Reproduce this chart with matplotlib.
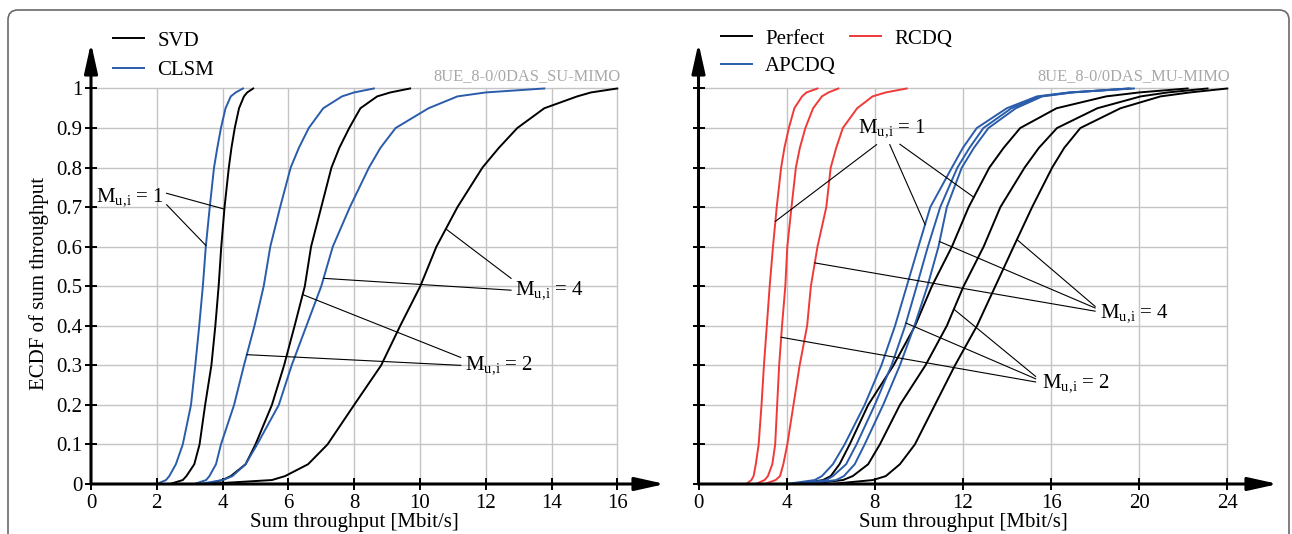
import numpy as np
import matplotlib
matplotlib.use("Agg")
import matplotlib.pyplot as plt
from matplotlib.patches import FancyBboxPatch
from matplotlib.transforms import IdentityTransform

plt.rcParams['font.family'] = ['Liberation Serif', 'DejaVu Serif']
plt.rcParams['mathtext.fontset'] = 'custom'
plt.rcParams['mathtext.rm'] = 'Liberation Serif'
plt.rcParams['mathtext.it'] = 'Liberation Serif:italic'

probs = [0, 0.01, 0.02, 0.05, 0.1, 0.2, 0.3, 0.4, 0.5, 0.6, 0.7, 0.8, 0.85, 0.9,
         0.95, 0.98, 0.99, 1.0]

# left panel: SU-MIMO
svd_m1 = [2.4, 2.79, 2.9, 3.14, 3.3, 3.47, 3.66, 3.78, 3.88, 3.96, 4.06, 4.19, 4.27, 4.37,
          4.5, 4.65, 4.75, 4.93]
clsm_m1 = [2.0, 2.28, 2.38, 2.58, 2.79, 3.04, 3.17, 3.29, 3.4, 3.49, 3.61, 3.74, 3.84, 3.95,
           4.09, 4.25, 4.4, 4.62]
svd_m2 = [3.5, 4.0, 4.25, 4.7, 5.0, 5.5, 5.87, 6.19, 6.5, 6.69, 7.0, 7.31, 7.55, 7.85,
          8.19, 8.7, 9.1, 9.7]
clsm_m2 = [3.14, 3.5, 3.6, 3.8, 3.95, 4.35, 4.65, 4.97, 5.25, 5.45, 5.75, 6.07, 6.32, 6.62,
           7.06, 7.63, 8.0, 8.6]
svd_m4 = [3.5, 5.5, 5.9, 6.6, 7.19, 8.0, 8.82, 9.4, 10.01, 10.5, 11.14, 11.9, 12.4, 12.96,
          13.78, 14.78, 15.2, 16.0]
clsm_m4 = [3.3, 4.0, 4.3, 4.7, 5.05, 5.71, 6.1, 6.55, 7.0, 7.35, 7.87, 8.45, 8.8, 9.26,
           10.26, 11.14, 12.0, 13.78]

# right panel: MU-MIMO
perf_m1 = [4.5, 5.65, 6.0, 6.4, 6.86, 7.7, 8.85, 9.83, 10.59, 11.5, 12.26, 13.2, 13.85, 14.6,
           16.25, 18.5, 20.0, 22.2]
perf_m2 = [5.0, 6.56, 7.0, 7.7, 8.23, 9.14, 10.3, 11.27, 12.03, 12.94, 13.7, 14.8, 15.45, 16.27,
           18.1, 20.07, 21.3, 23.1]
perf_m4 = [6.0, 7.92, 8.5, 9.14, 9.82, 10.73, 11.64, 12.64, 13.47, 14.3, 15.14, 16.05, 16.6,
           17.33, 19.15, 20.97, 22.3, 24.0]
apc_m1 = [4.0, 5.27, 5.6, 6.1, 6.63, 7.54, 8.3, 8.92, 9.45, 9.98, 10.52, 11.5, 12.0, 12.63,
          13.99, 15.36, 16.8, 19.76]
apc_m2 = [4.5, 5.8, 6.1, 6.7, 7.17, 8.0, 8.76, 9.38, 9.9, 10.41, 10.97, 11.75, 12.3, 12.93,
          14.2, 15.5, 16.9, 19.6]
apc_m4 = [4.8, 6.25, 6.6, 7.09, 7.54, 8.38, 9.14, 9.8, 10.39, 10.89, 11.27, 11.95, 12.5, 13.16,
          14.4, 15.6, 17.0, 19.5]
rcdq_m1 = [2.17, 2.4, 2.5, 2.6, 2.73, 2.86, 2.97, 3.1, 3.23, 3.38, 3.55, 3.75, 3.9, 4.1,
           4.35, 4.7, 4.9, 5.4]
rcdq_m2 = [2.6, 3.0, 3.15, 3.35, 3.48, 3.57, 3.66, 3.79, 3.94, 4.03, 4.22, 4.42, 4.6, 4.85,
           5.2, 5.6, 5.9, 6.35]
rcdq_m4 = [3.0, 3.5, 3.7, 3.85, 4.03, 4.31, 4.59, 4.93, 5.1, 5.4, 5.8, 6.0, 6.25, 6.55,
           7.2, 7.9, 8.5, 9.45]

left_xticks = list(range(0, 17, 2))
right_xticks = list(range(0, 25, 4))
yticks = [round(0.1 * i, 1) for i in range(11)]
ytick_labels = ['0', '0.1', '0.2', '0.3', '0.4', '0.5', '0.6', '0.7', '0.8', '0.9', '1']

BLACK, BLUE, RED = '#000000', '#2a5caa', '#f03a3a'
GRID = '#c4c4c4'
FS = 15

# callouts: label, text anchor, [(line start x, y, curve, level)]
left_callouts = [
    ('1', (0.15, 0.725), [(2.3, 0.735, svd_m1, 0.695), (2.3, 0.706, clsm_m1, 0.603)]),
    ('4', (12.9, 0.49), [(12.77, 0.52, svd_m4, 0.645), (12.77, 0.49, clsm_m4, 0.52)]),
    ('2', (11.37, 0.30), [(11.24, 0.32, svd_m2, 0.479), (11.24, 0.30, clsm_m2, 0.327)]),
]
right_callouts = [
    ('1', (7.23, 0.90), [(8.08, 0.858, rcdq_m1, 0.664), (8.68, 0.858, apc_m1, 0.656),
                         (9.14, 0.859, perf_m1, 0.725)]),
    ('4', (18.2, 0.432), [(18.0, 0.449, perf_m4, 0.618), (18.0, 0.445, apc_m4, 0.613),
                          (18.0, 0.437, rcdq_m4, 0.559)]),
    ('2', (15.58, 0.256), [(15.3, 0.272, perf_m2, 0.442), (15.3, 0.266, apc_m2, 0.407),
                           (15.3, 0.258, rcdq_m2, 0.371)]),
]

fig = plt.figure(figsize=(12.92, 5.34), dpi=100)
axl = fig.add_axes([91 / 1292, 50 / 534, 574 / 1292, 441 / 534])
axr = fig.add_axes([698.5 / 1292, 50 / 534, 579.5 / 1292, 441 / 534])


def setup(ax, xmax, xgrid, xticks, xlabel, xcenter, mark, labels_y):
    ax.set_xlim(0, xmax)
    ax.set_ylim(0, 1.115)
    for s in ax.spines.values():
        s.set_visible(False)
    ax.vlines(xgrid, 0, 1, color=GRID, lw=1, zorder=0)
    ax.hlines(yticks[1:], 0, xgrid[-1], color=GRID, lw=1, zorder=0)
    for end in ((1, 0), (0, 1)):
        ax.annotate('', xy=end, xytext=(0, 0), xycoords='axes fraction',
                    arrowprops=dict(arrowstyle='-|>,head_length=1.8,head_width=0.4',
                                    lw=2.2, color='k', shrinkA=0, shrinkB=0,
                                    mutation_scale=10), zorder=5)
    ax.set_xticks(xticks)
    ax.set_yticks(yticks)
    if labels_y:
        ax.set_yticklabels(ytick_labels)
    else:
        ax.set_yticklabels([])
    ax.tick_params(direction='inout', length=8, width=1.4, labelsize=FS)
    ax.tick_params(axis='x', pad=3)
    ax.tick_params(axis='y', pad=2)
    ax.text(xcenter, -0.088, xlabel, transform=ax.get_xaxis_transform(),
            ha='center', va='center', fontsize=FS)
    ax.text(xgrid[-1] + 0.1, 1.012, mark, ha='right', va='bottom',
            color='#a8a8a8', fontsize=11.8)


setup(axl, 17.45, left_xticks[1:], left_xticks, 'Sum throughput [Mbit/s]', 8,
      '8UE_8-0/0DAS_SU-MIMO', True)
setup(axr, 26.3, right_xticks[1:], right_xticks, 'Sum throughput [Mbit/s]', 12,
      '8UE_8-0/0DAS_MU-MIMO', False)
axl.set_ylabel('ECDF of sum throughput', fontsize=FS)
axl.yaxis.set_label_coords(-0.073, 0.455)

lw = 1.4
axl.plot(svd_m1, probs, color=BLACK, lw=lw, label='SVD')
axl.plot(clsm_m1, probs, color=BLUE, lw=lw, label='CLSM')
for c in (svd_m2, svd_m4):
    axl.plot(c, probs, color=BLACK, lw=lw)
for c in (clsm_m2, clsm_m4):
    axl.plot(c, probs, color=BLUE, lw=lw)

axr.plot(perf_m1, probs, color=BLACK, lw=lw, label='Perfect')
axr.plot(apc_m1, probs, color=BLUE, lw=lw, label='APCDQ')
axr.plot(rcdq_m1, probs, color=RED, lw=lw, label='RCDQ')
for c in (perf_m2, perf_m4):
    axr.plot(c, probs, color=BLACK, lw=lw)
for c in (apc_m2, apc_m4):
    axr.plot(c, probs, color=BLUE, lw=lw)
for c in (rcdq_m2, rcdq_m4):
    axr.plot(c, probs, color=RED, lw=lw)

for ax, callouts in ((axl, left_callouts), (axr, right_callouts)):
    for val, (tx, ty), segs in callouts:
        ax.text(tx, ty, r'M$_{\mathrm{u,\!i}}$ = ' + val, ha='left', va='center',
                fontsize=FS, zorder=6)
        for sx, sy, curve, p in segs:
            ax.plot([sx, np.interp(p, probs, curve)], [sy, p], color='k', lw=0.8, zorder=4)

axl.legend(loc='upper left', bbox_to_anchor=(113 / 1292, 1 - 31 / 534),
           bbox_transform=fig.transFigure, frameon=False, fontsize=FS,
           handlelength=1.5, handletextpad=0.62, labelspacing=0.47,
           borderpad=0, borderaxespad=0)
axr.legend(loc='upper left', bbox_to_anchor=(721 / 1292, 1 - 29 / 534),
           bbox_transform=fig.transFigure, frameon=False, fontsize=FS, ncol=2,
           handlelength=1.5, handletextpad=0.62, labelspacing=0.375,
           columnspacing=0.67, borderpad=0, borderaxespad=0)

frame = FancyBboxPatch((8, -40), 1281, 564, boxstyle='round,pad=0,rounding_size=10',
                       transform=IdentityTransform(), fill=False,
                       edgecolor='#6a6a6a', lw=1.2)
fig.add_artist(frame)

fig.savefig('out.png', dpi=100)
